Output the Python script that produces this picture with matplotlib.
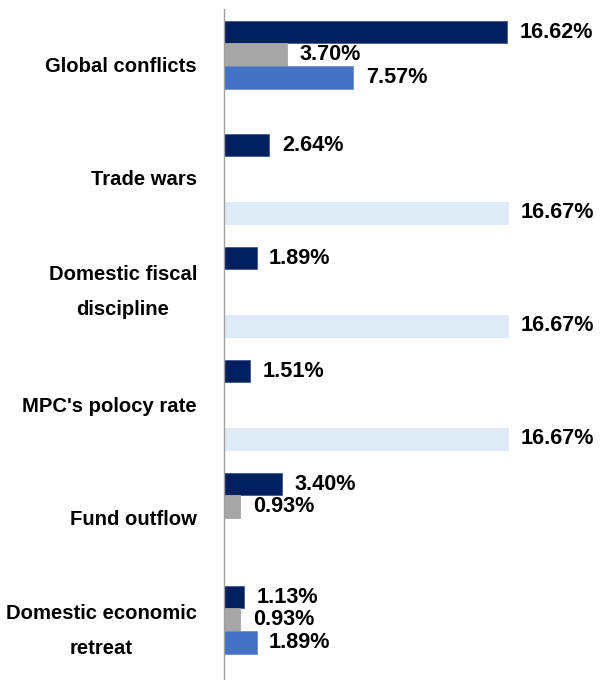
import numpy as np
import matplotlib
matplotlib.use('Agg')
import matplotlib.pyplot as plt
import matplotlib.transforms as mtransforms

# ---------------- data ----------------
categories = ['Global conflicts', 'Trade wars', 'Domestic fiscal\ndiscipline',
              "MPC's polocy rate", 'Fund outflow', 'Domestic economic\nretreat']
series_navy = [16.62, 2.64, 1.89, 1.51, 3.40, 1.13]
series_gray = [3.70, 0, 0, 0, 0.93, 0.93]
series_blue = [7.57, 0, 0, 0, 0, 1.89]
series_light = [0, 16.67, 16.67, 16.67, 0, 0]

series = [series_navy, series_gray, series_blue, series_light]
colors = ['#02205F', '#A6A6A6', '#4472C4', '#DEEAF6']
edges = ['#3B5A94', '#A6A6A6', '#6E8FCC', '#DEEAF6']

plt.rcParams['font.family'] = ['Liberation Sans', 'DejaVu Sans']

fig = plt.figure(figsize=(6.12, 6.8), dpi=100)
ax = fig.add_axes([0.3668, -0.01103, 0.5556, 0.99706])

y = np.arange(len(categories))
bh = 0.2
for i, (vals, c, ec) in enumerate(zip(series, colors, edges)):
    pos = y + (i - 1.5) * bh
    ax.barh(pos, vals, height=bh, color=c, edgecolor=ec, linewidth=0.6)
    for p, v in zip(pos, vals):
        if v > 0:
            ax.annotate(f'{v:.2f}%', xy=(v, p), xytext=(9.0, 0),
                        textcoords='offset points', va='center', ha='left',
                        fontsize=15.6, fontweight='bold', color='black',
                        annotation_clip=False)

ax.set_xlim(0, 20)
ax.set_ylim(len(categories) - 0.5, -0.5)
ax.set_yticks([])
ax.set_xticks([])

# category labels drawn as text left of the axis line
base = mtransforms.blended_transform_factory(ax.transAxes, ax.transData)
for yi, name in zip(y, categories):
    dy = 0 if '\n' in name else -1
    tr = base + mtransforms.ScaledTranslation(-0.275, dy / 100, fig.dpi_scale_trans)
    ax.text(0, yi, name, transform=tr, ha='right', va='center',
            multialignment='center', linespacing=2.1,
            fontsize=14.6, fontweight='bold', color='black')

for s in ['top', 'right', 'bottom']:
    ax.spines[s].set_visible(False)
ax.spines['left'].set_color('#A0A0A0')
ax.spines['left'].set_linewidth(1)

fig.savefig('out.png', dpi=100)
